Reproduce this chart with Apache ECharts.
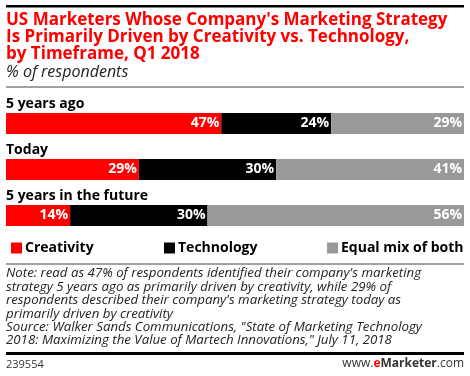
<!DOCTYPE html>
<html><head><meta charset="utf-8">
<script src="https://cdn.jsdelivr.net/npm/echarts@6/dist/echarts.min.js"></script>
<style>html,body{margin:0;padding:0;background:#fff}#c{width:470px;height:376px}</style>
</head><body><div id="c"></div>
<script>
const categories = ['5 years ago', 'Today', '5 years in the future'];
const creativity = [47, 29, 14];
const technology = [24, 30, 30];
const equalMix = [29, 41, 56];
const seriesNames = ['Creativity', 'Technology', 'Equal mix of both'];
const colors = ['#ff0000', '#000000', '#999999'];

const chart = echarts.init(document.getElementById('c'), null, {renderer: 'canvas'});
const FONT = '"Open Sans", sans-serif';
const labelCfg = {
  show: true, position: 'insideRight', distance: 2, color: '#fff',
  fontFamily: FONT, fontWeight: 'bold', fontSize: 14, formatter: '{c}%'
};
function mk(name, data, color) {
  return {name, type: 'bar', stack: 'a', data, barWidth: 21,
    itemStyle: {color}, label: labelCfg, emphasis: {disabled: true}, silent: true};
}
const legendBase = {top: 236, itemWidth: 11, itemHeight: 11, icon: 'rect', itemGap: 0,
  textStyle: {fontFamily: FONT, fontWeight: 'bold', fontSize: 14, color: '#000', padding: [0,0,0,-2]},
  selectedMode: false};
chart.setOption({
  animation: false,
  grid: {left: 6, right: 6, top: 100.5, height: 138, containLabel: false},
  xAxis: {type: 'value', min: 0, max: 100, show: false},
  yAxis: {type: 'category', data: categories, inverse: true,
    axisLine: {show: false}, axisTick: {show: false},
    axisLabel: {inside: true, margin: 0, align: 'left', verticalAlign: 'middle',
      formatter: v => '{v|' + v + '}\n{s| }',
      rich: {v: {fontFamily: FONT, fontWeight: 'bold', fontSize: 14, color: '#000', lineHeight: 17},
             s: {lineHeight: 38, fontSize: 1}}},
    z: 10},
  legend: [
    Object.assign({}, legendBase, {left: 6, data: [seriesNames[0]]}),
    Object.assign({}, legendBase, {left: 159, data: [seriesNames[1]]}),
    Object.assign({}, legendBase, {left: 322, data: [seriesNames[2]]})
  ],
  series: [mk(seriesNames[0], creativity, colors[0]), mk(seriesNames[1], technology, colors[1]), mk(seriesNames[2], equalMix, colors[2])],
  graphic: [
    {type: 'rect', shape: {x: 6, y: 5, width: 458, height: 2.5}, style: {fill: '#000'}},
    {type: 'text', left: 6, top: 12, style: {text: "US Marketers Whose Company's Marketing Strategy\nIs Primarily Driven by Creativity vs. Technology,\nby Timeframe, Q1 2018",
      fill: '#ff0000', font: 'bold 17px ' + FONT, lineHeight: 16.7}},
    {type: 'text', left: 6, top: 64, style: {text: '% of respondents', fill: '#222', font: 'italic 16px ' + FONT}},
    {type: 'rect', shape: {x: 6, y: 86.5, width: 458, height: 1}, style: {fill: '#444'}},
    {type: 'rect', shape: {x: 6, y: 263.5, width: 458, height: 1}, style: {fill: '#444'}},
    {type: 'text', left: 6, top: 267, style: {text: "Note: read as 47% of respondents identified their company's marketing\nstrategy 5 years ago as primarily driven by creativity, while 29% of\nrespondents described their company's marketing strategy today as\nprimarily driven by creativity\nSource: Walker Sands Communications, \"State of Marketing Technology\n2018: Maximizing the Value of Martech Innovations,\" July 11, 2018",
      fill: '#222', font: 'italic 13.25px ' + FONT, lineHeight: 13.4}},
    {type: 'rect', shape: {x: 6, y: 352, width: 458, height: 3}, style: {fill: '#000'}},
    {type: 'text', left: 6, top: 359, style: {text: '239554', fill: '#333', font: '11px ' + FONT}},
    {type: 'text', right: 6, top: 358, style: {text: '{a|www.}{b|e}{c|Marketer}{a|.com}',
      rich: {a: {fill: '#333', font: '12px ' + FONT}, b: {fill: '#ff0000', font: 'bold 12px ' + FONT}, c: {fill: '#333', font: 'bold 12px ' + FONT}}}}
  ]
});
</script></body></html>
